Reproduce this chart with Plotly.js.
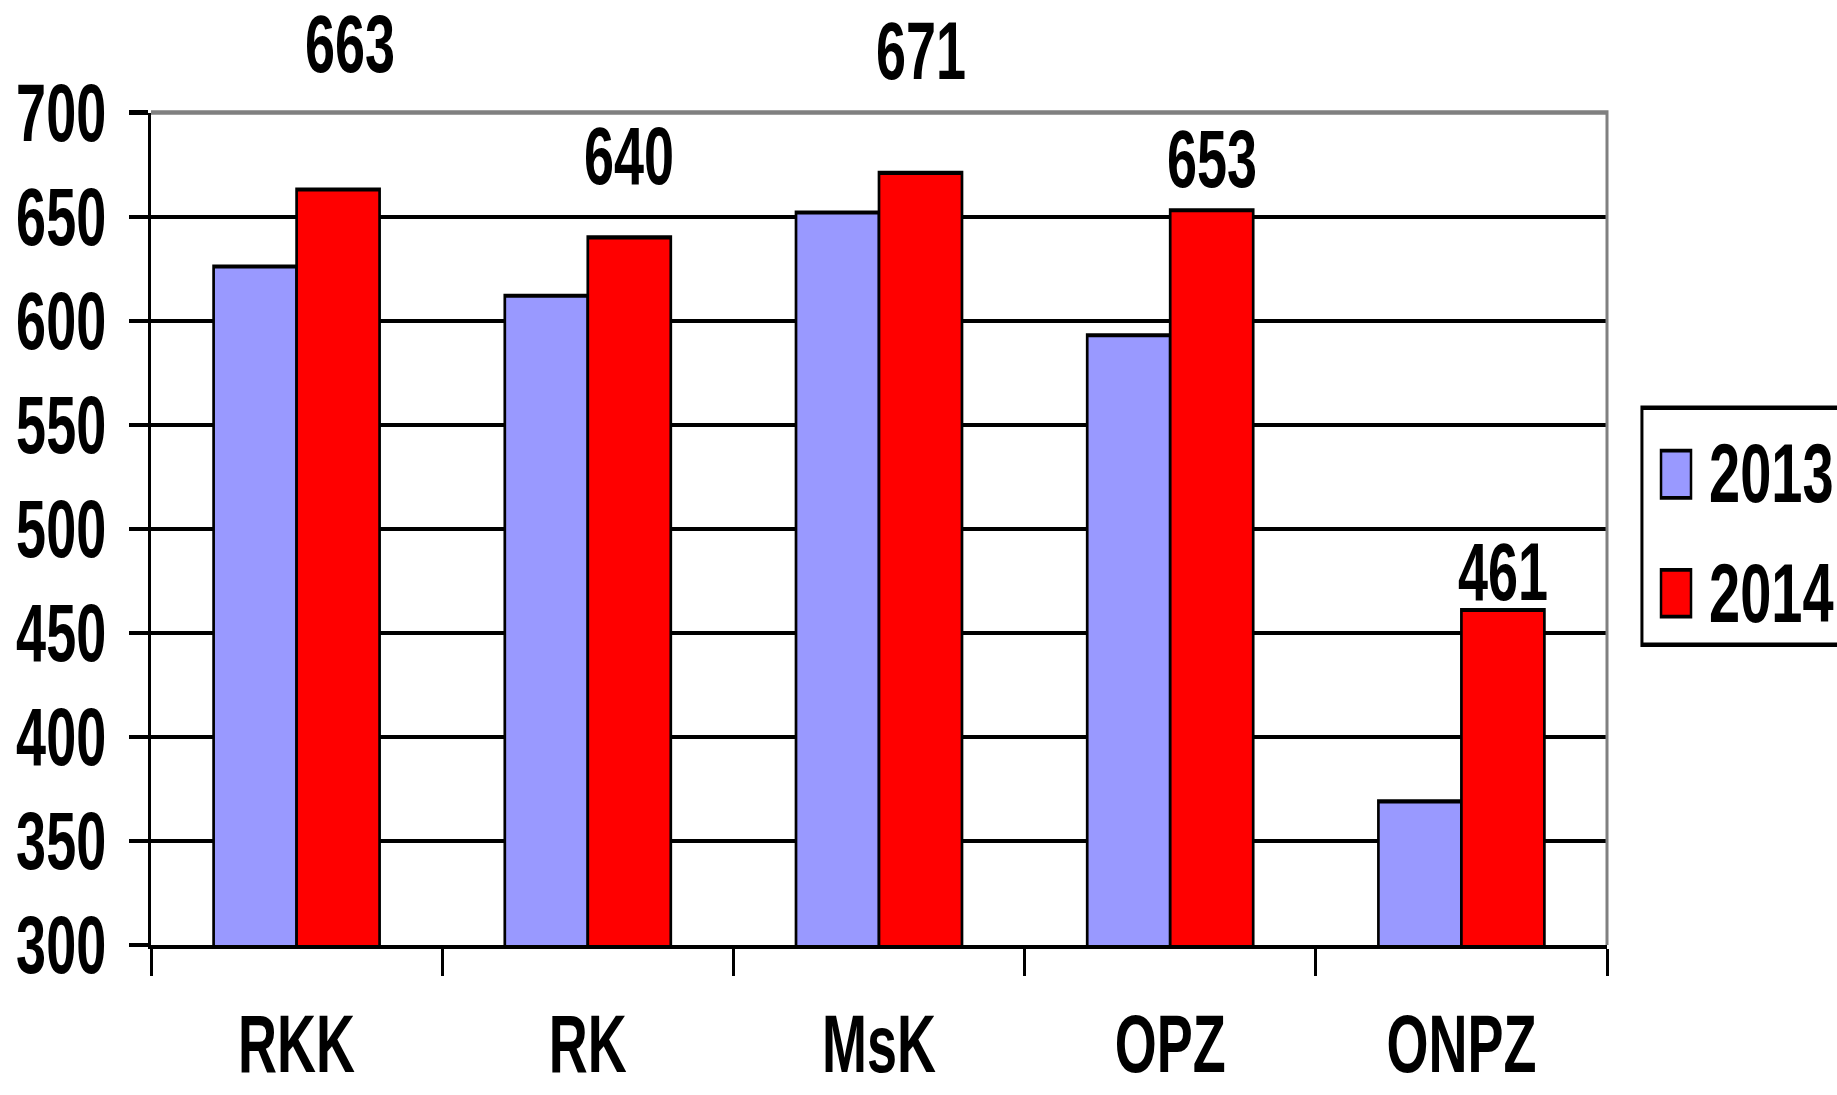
<!DOCTYPE html>
<html>
<head>
<meta charset="utf-8">
<script src="https://cdn.plot.ly/plotly-3.0.1.min.js"></script>
<style>
  html { margin: 0; padding: 0; overflow: hidden; background: #fff; }
  body { margin: 0; padding: 0; width: 1837px; height: 1095px; background: #fff; }
  #chart { width: 1837px; height: 730px; transform: scaleY(1.5); transform-origin: 0 0; }
</style>
</head>
<body>
<div id="chart"></div>
<script>
// ---- data ----
const categories = ["RKK", "RK", "MsK", "OPZ", "ONPZ"];
const seriesNames = ["2013", "2014"];
const values2013 = [626, 612, 652, 593, 369];
const values2014 = [663, 640, 671, 653, 461];
const yTickValues = [300, 350, 400, 450, 500, 550, 600, 650, 700];

// ---- styling / layout config ----
const colors = ["#9999FF", "#FF0000"];
const FONT = { family: "'Liberation Sans Narrow', 'Arial Narrow', 'Liberation Sans', Arial, sans-serif", size: 54, color: "#000", weight: "bold" };
const bargap = 0.43;
const labelShiftY = [97, 54, 81, 34, 26];   // pixel lift of each 2014 value label
const labelShiftX = [12, 0, 0, 0, 0];

const traces = [
  { type: "bar", name: seriesNames[0], x: categories, y: values2013,
    marker: { color: colors[0], line: { color: "#000", width: 2.7 } }, hoverinfo: "none" },
  { type: "bar", name: seriesNames[1], x: categories, y: values2014,
    marker: { color: colors[1], line: { color: "#000", width: 2.7 } }, hoverinfo: "none" }
];

const annotations = values2014.map((v, i) => ({
  x: i + (1 - bargap) / 4, y: v, xref: "x", yref: "y",
  text: String(v), showarrow: false, xanchor: "center", yanchor: "middle",
  yshift: labelShiftY[i], xshift: labelShiftX[i], font: FONT
}));

// legend (manual, boxed)
const legendItems = [
  { y0: 0.5372, y1: 0.5937, ty: 0.5661 },
  { y0: 0.3943, y1: 0.4507, ty: 0.4231 }
];
const shapes = [
  { type: "path", xref: "paper", yref: "paper", path: "M0,1 L1,1 L1,0",
    line: { color: "#808080", width: 3 }, layer: "above" },
  { type: "rect", xref: "paper", yref: "paper", x0: 1.024, x1: 1.2, y0: 0.3606, y1: 0.6454,
    line: { color: "#000", width: 3 }, fillcolor: "rgba(0,0,0,0)" }
];
legendItems.forEach((it, k) => {
  shapes.push({ type: "rect", xref: "paper", yref: "paper", x0: 1.0371, x1: 1.0577,
    y0: it.y0, y1: it.y1, line: { color: "#000", width: 2.5 }, fillcolor: colors[k] });
  annotations.push({ xref: "paper", yref: "paper", x: 1.0685, y: it.ty, text: seriesNames[k],
    showarrow: false, xanchor: "left", yanchor: "middle", font: Object.assign({}, FONT, { size: 56 }) });
});

const layout = {
  width: 1837, height: 730,
  margin: { l: 151, r: 230, t: 75, b: 100 },
  paper_bgcolor: "#fff", plot_bgcolor: "#fff",
  showlegend: false,
  barmode: "group", bargap: bargap, bargroupgap: 0,
  font: FONT,
  xaxis: {
    type: "category", range: [-0.5, 4.5],
    showline: true, linecolor: "#000", linewidth: 2.7,
    ticks: "outside", tickson: "boundaries", ticklen: 18, tickwidth: 3, tickcolor: "#000",
    showgrid: false, zeroline: false, tickfont: FONT, ticklabelstandoff: 17
  },
  yaxis: {
    range: [300, 700], tickvals: yTickValues, ticktext: yTickValues.map(String),
    showline: true, linecolor: "#000", linewidth: 3,
    ticks: "outside", ticklen: 19, tickwidth: 2.7, tickcolor: "#000",
    showgrid: true, gridcolor: "#000", gridwidth: 2.7, zeroline: false,
    tickfont: FONT, ticklabelstandoff: 12
  },
  annotations: annotations,
  shapes: shapes
};

Plotly.newPlot("chart", traces, layout, { staticPlot: true, displayModeBar: false });
</script>
</body>
</html>
